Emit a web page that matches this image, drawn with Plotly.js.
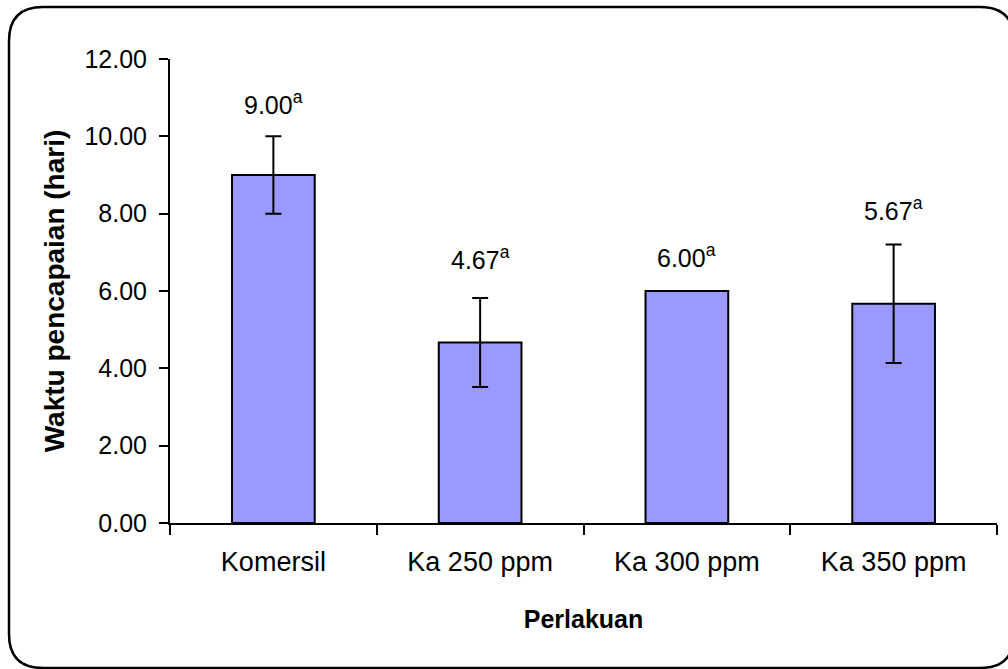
<!DOCTYPE html>
<html>
<head>
<meta charset="utf-8">
<script src="https://cdn.plot.ly/plotly-3.0.1.min.js"></script>
<style>
  html, body { margin: 0; padding: 0; background: #fff; }
  #chart { width: 1008px; height: 669px; }
</style>
</head>
<body>
<div id="chart"></div>
<script>
// Treatments and measured time to reach target (days), mean ± deviation
const categories = ['Komersil', 'Ka 250 ppm', 'Ka 300 ppm', 'Ka 350 ppm'];
const meanDays = [9.00, 4.67, 6.00, 5.67];
const errorDays = [1.00, 1.15, 0.00, 1.53];
const significance = ['a', 'a', 'a', 'a'];
const yTickValues = [0, 2, 4, 6, 8, 10, 12];

const FONT = 'Liberation Sans, Arial, sans-serif';
const W = 1008, H = 669;
const M = { l: 170, r: 11, t: 59, b: 146 };
const pw = W - M.l - M.r, ph = H - M.t - M.b;

// pixel -> paper helpers for the frame drawn around the chart
const fx = px => (px - M.l) / pw;
const fy = py => (H - M.b - py) / ph;

function roundedRect(x0, y0, x1, y1, r) {
  return [
    `M ${fx(x0 + r)} ${fy(y0)}`,
    `L ${fx(x1 - r)} ${fy(y0)}`,
    `Q ${fx(x1)} ${fy(y0)} ${fx(x1)} ${fy(y0 + r)}`,
    `L ${fx(x1)} ${fy(y1 - r)}`,
    `Q ${fx(x1)} ${fy(y1)} ${fx(x1 - r)} ${fy(y1)}`,
    `L ${fx(x0 + r)} ${fy(y1)}`,
    `Q ${fx(x0)} ${fy(y1)} ${fx(x0)} ${fy(y1 - r)}`,
    `L ${fx(x0)} ${fy(y0 + r)}`,
    `Q ${fx(x0)} ${fy(y0)} ${fx(x0 + r)} ${fy(y0)}`,
    'Z'
  ].join(' ');
}

const bars = {
  type: 'bar',
  x: categories,
  y: meanDays,
  marker: { color: '#9999FF', line: { color: '#000', width: 2 } },
  error_y: {
    type: 'data',
    array: errorDays,
    visible: true,
    color: '#000',
    thickness: 2,
    width: 8
  },
  hoverinfo: 'x+y'
};

// vertical lift (px) of each value label above its error-bar cap
const labelLift = [15, 22, 17, 18];

const valueLabels = categories.map((c, i) => ({
  x: c,
  y: meanDays[i] + errorDays[i],
  xref: 'x',
  yref: 'y',
  text: meanDays[i].toFixed(2) + '<sup>' + significance[i] + '</sup>',
  showarrow: false,
  yanchor: 'bottom',
  yshift: labelLift[i],
  font: { family: FONT, size: 25, color: '#000' }
}));

const layout = {
  width: W,
  height: H,
  margin: M,
  paper_bgcolor: '#fff',
  plot_bgcolor: '#fff',
  showlegend: false,
  bargap: 0.6,
  font: { family: FONT, size: 25, color: '#000' },
  xaxis: {
    type: 'category',
    range: [-0.5, 3.5],
    showline: true,
    linecolor: '#000',
    linewidth: 2,
    ticks: 'outside',
    tickson: 'boundaries',
    ticklen: 10,
    tickwidth: 2,
    tickcolor: '#000',
    ticklabelstandoff: 14,
    showgrid: false,
    zeroline: false,
    tickfont: { family: FONT, size: 27, color: '#000' },
    title: { text: '<b>Perlakuan</b>', font: { family: FONT, size: 25, color: '#000' }, standoff: 34 }
  },
  yaxis: {
    range: [0, 12],
    tickvals: yTickValues,
    tickformat: '.2f',
    showline: true,
    linecolor: '#000',
    linewidth: 2,
    ticks: 'outside',
    ticklen: 9,
    tickwidth: 2,
    tickcolor: '#000',
    ticklabelstandoff: 7,
    showgrid: false,
    zeroline: false,
    tickfont: { family: FONT, size: 25, color: '#000' },
    title: { text: '<b>Waktu pencapaian (hari)</b>', font: { family: FONT, size: 28, color: '#000' }, standoff: 12 }
  },
  annotations: valueLabels,
  shapes: [{
    type: 'path',
    xref: 'paper',
    yref: 'paper',
    path: roundedRect(9, 7, 1014, 668, 34),
    line: { color: '#000', width: 2.5 },
    fillcolor: 'rgba(0,0,0,0)',
    layer: 'above'
  }]
};

Plotly.newPlot('chart', [bars], layout, { displayModeBar: false, staticPlot: true });
</script>
</body>
</html>
